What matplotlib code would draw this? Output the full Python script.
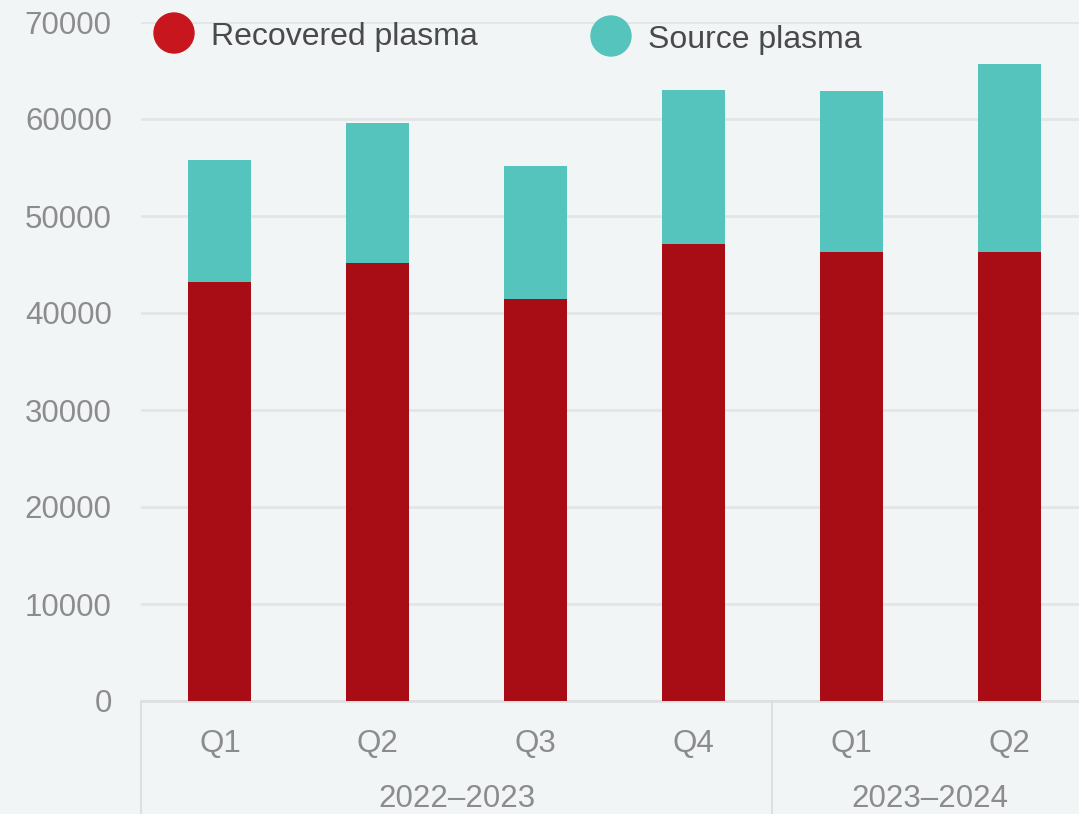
import matplotlib
matplotlib.use("Agg")
import matplotlib.pyplot as plt
from matplotlib.patches import Ellipse

# Data
quarters = ["Q1", "Q2", "Q3", "Q4", "Q1", "Q2"]
years = ["2022–2023", "2023–2024"]
year_spans = [(0, 3), (4, 5)]
series_names = ["Recovered plasma", "Source plasma"]
recovered = [43150, 45180, 41470, 47140, 46290, 46310]
source = [12580, 14370, 13680, 15850, 16630, 19320]
yticks = [0, 10000, 20000, 30000, 40000, 50000, 60000, 70000]

bg = "#F2F5F6"
red_bar = "#A80D15"
red_leg = "#C8161E"
teal = "#55C4BC"
grid_c = "#E3E6E7"
tick_c = "#8C8C8C"
leg_txt = "#4A4A4A"

plt.rcParams['font.family'] = ['Liberation Sans', 'DejaVu Sans']

W, H = 1079, 814
fig = plt.figure(figsize=(W / 100, H / 100), dpi=100, facecolor=bg)
left_px, right_px = 141, 1088
bottom_px, top_px = 701, 22
ax = fig.add_axes([left_px / W, (H - bottom_px) / H, (right_px - left_px) / W, (bottom_px - top_px) / H])
ax.set_facecolor(bg)

x = list(range(len(quarters)))
ax.bar(x, recovered, width=0.4, color=red_bar, zorder=3, label=series_names[0])
ax.bar(x, source, width=0.4, bottom=recovered, color=teal, zorder=3, label=series_names[1])

ax.set_xlim(-0.5, len(quarters) - 0.5)
ax.set_ylim(0, 70000)
ax.set_yticks(yticks)
ax.set_yticklabels([str(v) for v in yticks])
ax.yaxis.grid(True, color=grid_c, linewidth=2, zorder=0)
ax.set_axisbelow(True)
for s in ["top", "right", "left"]:
    ax.spines[s].set_visible(False)
ax.spines["bottom"].set_color("#DDDFE0")
ax.spines["bottom"].set_linewidth(2)

ax.tick_params(axis="y", length=0, pad=21, labelsize=22.5, labelcolor=tick_c)
ax.set_xticks(x)
ax.set_xticklabels(quarters)
ax.tick_params(axis="x", length=0, pad=20, labelsize=22.5, labelcolor=tick_c)

trans = ax.get_xaxis_transform()
# separators
for b in [-0.5, 3.5]:
    ax.plot([b, b], [0, -0.2], transform=trans, color="#DDDFE0", linewidth=1.5, clip_on=False)
ax_h = bottom_px - top_px
for name, (a, b) in zip(years, year_spans):
    ax.text((a + b) / 2, (bottom_px - 807) / ax_h, name, transform=trans, ha="center",
            va="baseline", fontsize=22.5, color=tick_c)

# Legend (manual)
leg_items = [(series_names[0], red_leg, 174, 33, 211, 37), (series_names[1], teal, 611, 36, 648, 40)]
for name, col, cx, cy, tx, ty in leg_items:
    e = Ellipse((cx / W, 1 - cy / H), 40 / W, 40 / H, transform=fig.transFigure,
                color=col, zorder=5)
    fig.add_artist(e)
    fig.text(tx / W, 1 - ty / H, name, ha="left", va="center", fontsize=23, color=leg_txt)

fig.savefig("out.png", dpi=100, facecolor=bg)
